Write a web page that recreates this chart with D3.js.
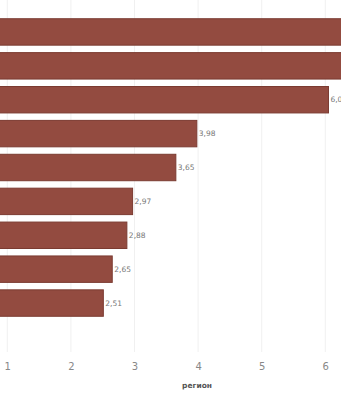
<!DOCTYPE html>
<html>
<head>
<meta charset="utf-8">
<script src="https://cdn.jsdelivr.net/npm/d3@7"></script>
<style>
  body { margin: 0; background: #fff; }
  svg { display: block; }
</style>
</head>
<body>
<div id="chart"></div>
<script>
// Data (categories are cropped away in the reference, top two bars run off the edge)
var categories = ["r1", "r2", "r3", "r4", "r5", "r6", "r7", "r8", "r9"];
var values = [7.9, 7.2, 6.05, 3.98, 3.65, 2.97, 2.88, 2.65, 2.51];
var valueLabels = ["", "", "6,05", "3,98", "3,65", "2,97", "2,88", "2,65", "2,51"];
var tickValues = [1, 2, 3, 4, 5, 6];
var axisTitle = "регион";

var w = 341, h = 400;

var svg = d3.select("#chart").append("svg").attr("width", w).attr("height", h);

// x scale: zero sits off the left edge (chart is cropped)
var x = d3.scaleLinear().domain([1, 6]).range([7.3, 325.3]);

var y = d3.scaleBand().domain(categories).range([15, 320])
	.paddingInner(0.22).paddingOuter(0.11);

// vertical gridlines
svg.append("g").selectAll("line").data(tickValues).enter().append("line")
	.attr("x1", function(d) { return x(d); })
	.attr("x2", function(d) { return x(d); })
	.attr("y1", 0).attr("y2", 352)
	.attr("stroke", "#f0f0f0").attr("stroke-width", 1);

// bars
svg.append("g").selectAll("rect").data(values).enter().append("rect")
	.attr("x", x(0))
	.attr("y", function(d, i) { return y(categories[i]); })
	.attr("width", function(d) { return x(d) - x(0); })
	.attr("height", y.bandwidth())
	.attr("fill", "#934b40")
	.attr("stroke", "#7b3b31").attr("stroke-width", 1);

// value labels
svg.append("g").selectAll("text").data(values).enter().append("text")
	.attr("x", function(d) { return x(d) + 2; })
	.attr("y", function(d, i) { return y(categories[i]) + y.bandwidth() / 2; })
	.attr("dy", "0.35em")
	.attr("font-family", "DejaVu Sans, sans-serif")
	.attr("font-size", 7.5)
	.attr("fill", "#777")
	.text(function(d, i) { return valueLabels[i]; });

// x axis ticks, no domain line
var axis = svg.append("g").attr("transform", "translate(0,360)")
	.call(d3.axisBottom(x).tickValues(tickValues).tickSize(0).tickFormat(d3.format("d")));
axis.select(".domain").remove();
axis.selectAll("text")
	.attr("font-family", "DejaVu Sans, sans-serif")
	.attr("font-size", 10)
	.attr("fill", "#888");

svg.append("text")
	.attr("x", 197).attr("y", 388)
	.attr("text-anchor", "middle")
	.attr("font-family", "DejaVu Sans, sans-serif")
	.attr("font-size", 7.5)
	.attr("font-weight", "bold")
	.attr("fill", "#555")
	.text(axisTitle);
</script>
</body>
</html>
